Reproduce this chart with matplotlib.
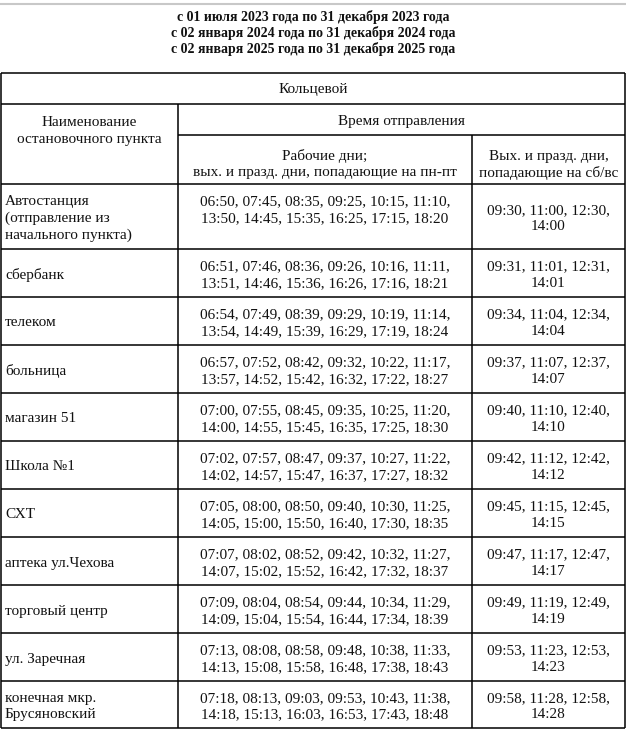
import matplotlib.pyplot as plt

# --- Daten ---
title_lines = [
    'с 01 июля 2023 года по 31 декабря 2023 года',
    'с 02 января 2024 года по 31 декабря 2024 года',
    'с 02 января 2025 года по 31 декабря 2025 года',
]
route_name = 'Кольцевой'
head_stop = ['Наименование', 'остановочного пункта']
head_time = 'Время отправления'
head_weekday = ['Рабочие дни;', 'вых. и празд. дни, попадающие на пн-пт']
head_weekend = ['Вых. и празд. дни,', 'попадающие на сб/вс']

stops = [
    ['Автостанция', '(отправление из', 'начального пункта)'],
    ['сбербанк'],
    ['телеком'],
    ['больница'],
    ['магазин 51'],
    ['Школа №1'],
    ['СХТ'],
    ['аптека ул.Чехова'],
    ['торговый центр'],
    ['ул. Заречная'],
    ['конечная мкр.', 'Брусяновский'],
]

weekday_times = [
    ['06:50', '07:45', '08:35', '09:25', '10:15', '11:10', '13:50', '14:45', '15:35', '16:25', '17:15', '18:20'],
    ['06:51', '07:46', '08:36', '09:26', '10:16', '11:11', '13:51', '14:46', '15:36', '16:26', '17:16', '18:21'],
    ['06:54', '07:49', '08:39', '09:29', '10:19', '11:14', '13:54', '14:49', '15:39', '16:29', '17:19', '18:24'],
    ['06:57', '07:52', '08:42', '09:32', '10:22', '11:17', '13:57', '14:52', '15:42', '16:32', '17:22', '18:27'],
    ['07:00', '07:55', '08:45', '09:35', '10:25', '11:20', '14:00', '14:55', '15:45', '16:35', '17:25', '18:30'],
    ['07:02', '07:57', '08:47', '09:37', '10:27', '11:22', '14:02', '14:57', '15:47', '16:37', '17:27', '18:32'],
    ['07:05', '08:00', '08:50', '09:40', '10:30', '11:25', '14:05', '15:00', '15:50', '16:40', '17:30', '18:35'],
    ['07:07', '08:02', '08:52', '09:42', '10:32', '11:27', '14:07', '15:02', '15:52', '16:42', '17:32', '18:37'],
    ['07:09', '08:04', '08:54', '09:44', '10:34', '11:29', '14:09', '15:04', '15:54', '16:44', '17:34', '18:39'],
    ['07:13', '08:08', '08:58', '09:48', '10:38', '11:33', '14:13', '15:08', '15:58', '16:48', '17:38', '18:43'],
    ['07:18', '08:13', '09:03', '09:53', '10:43', '11:38', '14:18', '15:13', '16:03', '16:53', '17:43', '18:48'],
]

weekend_times = [
    ['09:30', '11:00', '12:30', '14:00'],
    ['09:31', '11:01', '12:31', '14:01'],
    ['09:34', '11:04', '12:34', '14:04'],
    ['09:37', '11:07', '12:37', '14:07'],
    ['09:40', '11:10', '12:40', '14:10'],
    ['09:42', '11:12', '12:42', '14:12'],
    ['09:45', '11:15', '12:45', '14:15'],
    ['09:47', '11:17', '12:47', '14:17'],
    ['09:49', '11:19', '12:49', '14:19'],
    ['09:53', '11:23', '12:53', '14:23'],
    ['09:58', '11:28', '12:58', '14:28'],
]

# --- Layout (Pixel) ---
W, H = 626, 730
x_left, x_c1, x_c2, x_right = 1, 178, 472, 625
y_top, y_route, y_time, y_head = 73, 104, 135, 184
row_h = [65, 48, 48, 48, 48, 48, 48, 48, 48, 48, 47]
LH = 16.5
FONT = 'Liberation Serif'
FS = 11

fig = plt.figure(figsize=(W / 100, H / 100), dpi=100)
ax = fig.add_axes([0, 0, 1, 1])
ax.set_xlim(0, W)
ax.set_ylim(H, 0)
ax.axis('off')


def put_lines(lines, x, yc, ha='center', n=None, **kw):
    n = n or len(lines)
    y0 = yc - (n - 1) * LH / 2
    for i, ln in enumerate(lines):
        ax.text(x, y0 + i * LH, ln, ha=ha, va='center', family=FONT, fontsize=FS, color='#111111', **kw)


# Kopf
ax.hlines(4, 0, W, color='#c8c8c8', lw=1.5)
for i, t in enumerate(title_lines):
    ax.text(313, 17 + i * 16, t, ha='center', va='center', family=FONT, fontsize=10,
            fontweight='bold', color='#111111')

# Zeilengrenzen
row_edges = [y_head]
for h in row_h:
    row_edges.append(row_edges[-1] + h)
y_bottom = row_edges[-1]

lw = 1.1
ax.hlines([y_top, y_route, y_head] + row_edges[1:], x_left, x_right, color='black', lw=lw)
ax.hlines(y_time, x_c1, x_right, color='black', lw=lw)
ax.vlines([x_left, x_right], y_top, y_bottom, color='black', lw=lw)
ax.vlines(x_c1, y_route, y_bottom, color='black', lw=lw)
ax.vlines(x_c2, y_time, y_bottom, color='black', lw=lw)

x_wd = (x_c1 + x_c2) / 2
x_we = (x_c2 + x_right) / 2

put_lines([route_name], W / 2, (y_top + y_route) / 2 + 1)
put_lines([head_time], (x_c1 + x_right) / 2, (y_route + y_time) / 2 + 2)
put_lines(head_stop, (x_left + x_c1) / 2, 123 + LH / 2)
put_lines(head_weekday, x_wd, (y_time + y_head) / 2 + 5)
put_lines(head_weekend, x_we, (y_time + y_head) / 2 + 5)

# Datenzeilen
for r in range(len(stops)):
    yc = (row_edges[r] + row_edges[r + 1]) / 2 + 2
    put_lines(stops[r], 5, yc, ha='left')
    wd = weekday_times[r]
    wd_lines = [', '.join(wd[:6]) + ',', ', '.join(wd[6:])]
    n = max(len(stops[r]), 2)
    put_lines(wd_lines, x_wd, yc, n=n)
    we = weekend_times[r]
    put_lines([', '.join(we[:3]) + ',', we[3]], x_we, yc)

fig.savefig('out.png', dpi=100, facecolor='white')
